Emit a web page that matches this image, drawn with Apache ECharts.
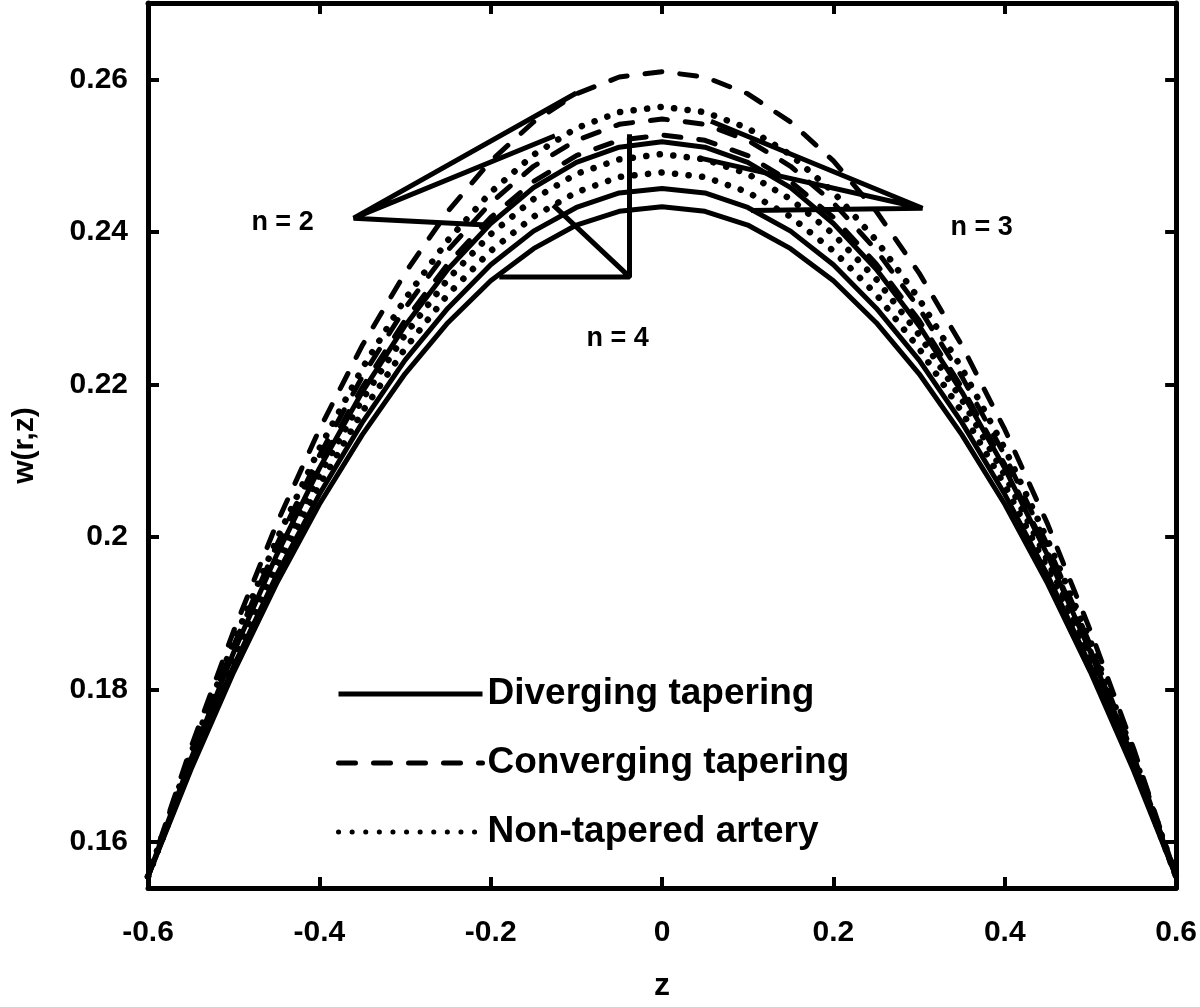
<!DOCTYPE html>
<html>
<head>
<meta charset="utf-8">
<script src="https://cdn.jsdelivr.net/npm/echarts@6/dist/echarts.min.js"></script>
<style>
html,body{margin:0;padding:0;background:#fff;}
#chart{width:1200px;height:1007px;}
</style>
</head>
<body>
<div id="chart"></div>
<script>
// ---- data ----
const zValues = [-0.6,-0.55,-0.5,-0.45,-0.4,-0.35,-0.3,-0.25,-0.2,-0.15,-0.1,-0.05,0,0.05,0.1,0.15,0.2,0.25,0.3,0.35,0.4,0.45,0.5,0.55,0.6];

const divergingN2 = [0.1555,0.1709,0.1849,0.1976,0.2090,0.2190,0.2277,0.2351,0.2411,0.2458,0.2491,0.2511,0.2518,0.2511,0.2491,0.2458,0.2411,0.2351,0.2277,0.2190,0.2090,0.1976,0.1849,0.1709,0.1555];
const divergingN3 = [0.1555,0.1699,0.1831,0.1950,0.2056,0.2150,0.2232,0.2300,0.2357,0.2401,0.2432,0.2451,0.2457,0.2451,0.2432,0.2401,0.2357,0.2300,0.2232,0.2150,0.2056,0.1950,0.1831,0.1699,0.1555];
const divergingN4 = [0.1555,0.1695,0.1823,0.1939,0.2043,0.2134,0.2214,0.2281,0.2336,0.2378,0.2409,0.2427,0.2433,0.2427,0.2409,0.2378,0.2336,0.2281,0.2214,0.2134,0.2043,0.1939,0.1823,0.1695,0.1555];

const convergingN2 = [0.1555,0.1724,0.1877,0.2017,0.2141,0.2251,0.2346,0.2427,0.2493,0.2544,0.2581,0.2603,0.2610,0.2603,0.2581,0.2544,0.2493,0.2427,0.2346,0.2251,0.2141,0.2017,0.1877,0.1724,0.1555];
const convergingN3 = [0.1555,0.1714,0.1858,0.1989,0.2107,0.2210,0.2300,0.2376,0.2438,0.2486,0.2520,0.2541,0.2548,0.2541,0.2520,0.2486,0.2438,0.2376,0.2300,0.2210,0.2107,0.1989,0.1858,0.1714,0.1555];
const convergingN4 = [0.1555,0.1710,0.1852,0.1980,0.2095,0.2196,0.2284,0.2358,0.2419,0.2466,0.2500,0.2520,0.2527,0.2520,0.2500,0.2466,0.2419,0.2358,0.2284,0.2196,0.2095,0.1980,0.1852,0.1710,0.1555];

const nonTaperedN2 = [0.1555,0.1716,0.1863,0.1996,0.2116,0.2221,0.2312,0.2389,0.2452,0.2501,0.2536,0.2557,0.2564,0.2557,0.2536,0.2501,0.2452,0.2389,0.2312,0.2221,0.2116,0.1996,0.1863,0.1716,0.1555];
const nonTaperedN3 = [0.1555,0.1706,0.1844,0.1969,0.2081,0.2180,0.2265,0.2338,0.2397,0.2443,0.2476,0.2495,0.2502,0.2495,0.2476,0.2443,0.2397,0.2338,0.2265,0.2180,0.2081,0.1969,0.1844,0.1706,0.1555];
const nonTaperedN4 = [0.1555,0.1702,0.1837,0.1959,0.2068,0.2164,0.2247,0.2318,0.2375,0.2420,0.2452,0.2472,0.2478,0.2472,0.2452,0.2420,0.2375,0.2318,0.2247,0.2164,0.2068,0.1959,0.1837,0.1702,0.1555];

const xTickValues = [-0.6,-0.4,-0.2,0,0.2,0.4,0.6];
const yTickValues = [0.16,0.18,0.2,0.22,0.24,0.26];

// annotation pointer lines (ends on curves, meeting at an apex)
const pointerN2 = [[-0.10,0.2582],[-0.36,0.2418],[-0.125,0.2526],[-0.36,0.2418],[-0.205,0.2409]];
const pointerN3 = [[0.057,0.2545],[0.304,0.2431],[0.043,0.2497],[0.304,0.2431],[0.104,0.2428]];
const pointerN4 = [[-0.038,0.2528],[-0.038,0.2341],[-0.19,0.2341],[-0.038,0.2341],[-0.127,0.2435]];
const labelTexts = ['n = 2','n = 3','n = 4'];
const labelPoints = [[-0.443,0.2412],[0.373,0.2406],[-0.052,0.2260]];

const legendNames = ['Diverging tapering','Converging tapering','Non-tapered artery'];

// ---- chart ----
const FONT = '"Liberation Sans", Arial, Helvetica, sans-serif';
const chart = echarts.init(document.getElementById('chart'), null, {renderer:'canvas'});

function pairs(ys){ return zValues.map((z,i)=>[z,ys[i]]); }

const solidStyle = {color:'#000', width:5, type:'solid'};
const dashStyle = {color:'#000', width:5, type:[17,18], cap:'round'};
const dotStyle = {color:'#000', width:6.5, type:[0.1,13.5], cap:'round'};

function curve(name, ys, ls){
  return {type:'line', name:name, data:pairs(ys), showSymbol:false, symbol:'none',
    lineStyle:ls, itemStyle:{color:'#000'}, smooth:false, z:3, silent:true};
}
function pointer(pts){
  return {type:'line', data:pts, showSymbol:false, symbol:'none',
    lineStyle:{color:'#000', width:5}, z:4, silent:true, legendHoverLink:false};
}

const series = [
  curve(legendNames[0], divergingN2, solidStyle),
  curve(legendNames[0], divergingN3, solidStyle),
  curve(legendNames[0], divergingN4, solidStyle),
  curve(legendNames[1], convergingN2, dashStyle),
  curve(legendNames[1], convergingN3, dashStyle),
  curve(legendNames[1], convergingN4, dashStyle),
  curve(legendNames[2], nonTaperedN2, dotStyle),
  curve(legendNames[2], nonTaperedN3, dotStyle),
  curve(legendNames[2], nonTaperedN4, dotStyle),
  pointer(pointerN2), pointer(pointerN3), pointer(pointerN4),
  {type:'scatter', data:labelPoints.map((p,i)=>({value:p, label:{formatter:labelTexts[i]}})),
   symbolSize:2, itemStyle:{color:'rgba(0,0,0,0)'}, silent:true, z:5,
   label:{show:true, position:'inside', color:'#000', opacity:1, textBorderWidth:0, textBorderColor:'transparent',
     fontSize:27, fontWeight:'bold', fontFamily:FONT}}
];

const axisLineCommon = {show:true, onZero:false, lineStyle:{color:'#000', width:5}};
const tickCommon = {show:true, inside:true, length:11, lineStyle:{color:'#000', width:4}};

const option = {
  animation:false,
  backgroundColor:'#fff',
  grid:{left:148, right:22, top:3, bottom:99, containLabel:false},
  legend:{
    data:legendNames, orient:'vertical', left:331, top:670,
    itemWidth:144, itemHeight:14, itemGap:31,
    textStyle:{color:'#000', fontSize:37, fontWeight:'bold', fontFamily:FONT, lineHeight:38},
    lineStyle:{width:5},
    itemStyle:{color:'rgba(0,0,0,0)', borderWidth:0, opacity:0},
    selectedMode:false
  },
  xAxis:[
    {type:'value', min:-0.6, max:0.6, interval:0.2, position:'bottom',
     axisLine:axisLineCommon, axisTick:tickCommon, splitLine:{show:false},
     axisLabel:{show:true, color:'#000', fontSize:30, fontWeight:'bold', fontFamily:FONT, margin:30,
       customValues:xTickValues, formatter:v=>String(Math.round(v*10)/10)},
     name:'z', nameLocation:'middle', nameGap:82,
     nameTextStyle:{color:'#000', fontSize:32, fontWeight:'bold', fontFamily:FONT}},
    {type:'value', min:-0.6, max:0.6, interval:0.2, position:'top',
     axisLine:axisLineCommon, axisTick:tickCommon, splitLine:{show:false}, axisLabel:{show:false}}
  ],
  yAxis:[
    {type:'value', min:0.154, max:0.27, position:'left',
     axisLine:axisLineCommon,
     axisTick:Object.assign({customValues:yTickValues}, tickCommon),
     splitLine:{show:false},
     axisLabel:{show:true, customValues:yTickValues, color:'#000', fontSize:30, fontWeight:'bold', fontFamily:FONT, margin:20,
       formatter:v=>String(Math.round(v*100)/100)},
     name:'w(r,z)', nameLocation:'middle', nameGap:108,
     nameTextStyle:{color:'#000', fontSize:30, fontWeight:'bold', fontFamily:FONT}},
    {type:'value', min:0.154, max:0.27, position:'right',
     axisLine:axisLineCommon,
     axisTick:Object.assign({customValues:yTickValues}, tickCommon),
     splitLine:{show:false}, axisLabel:{show:false}}
  ],
  series:series
};
chart.setOption(option);
</script>
</body>
</html>
